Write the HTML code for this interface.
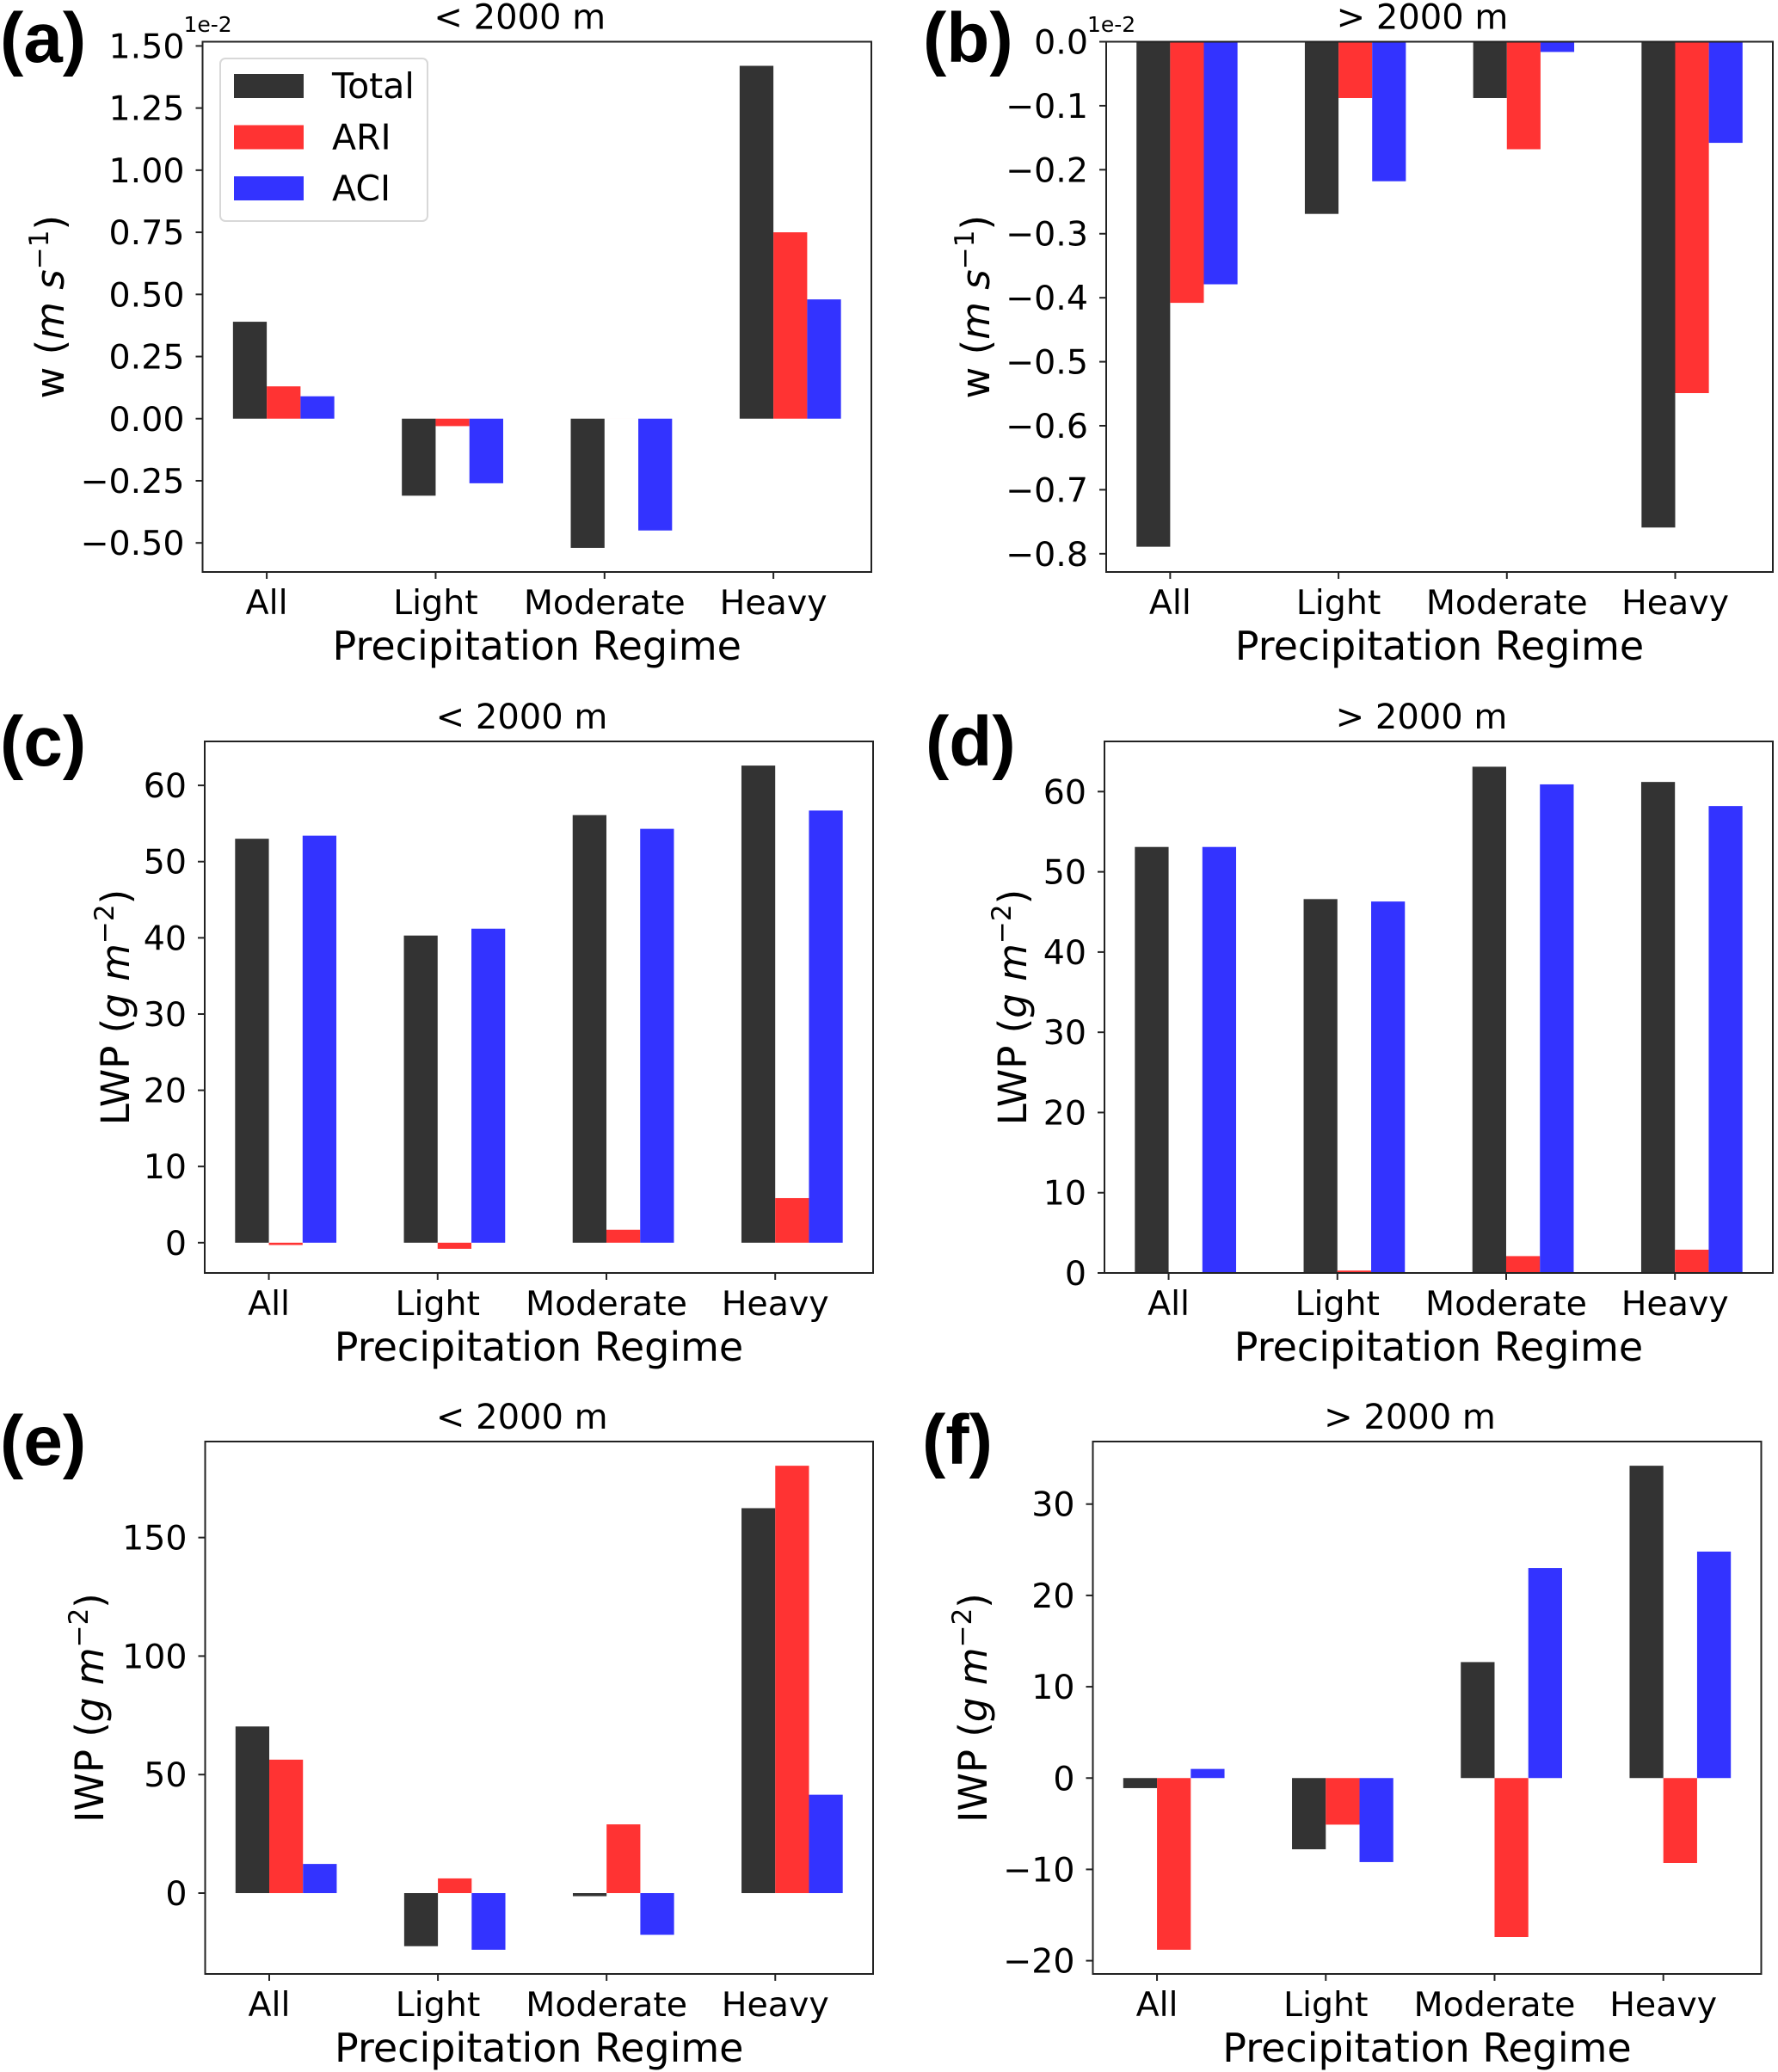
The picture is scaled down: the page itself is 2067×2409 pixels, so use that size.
<!DOCTYPE html>
<html><head><meta charset="utf-8">
<style>
html,body{margin:0;padding:0;background:#fff;}
svg{display:block;}
text{font-family:"DejaVu Sans","Liberation Sans",sans-serif;fill:#000;}
.lbl{font-family:"Liberation Sans",sans-serif;font-weight:bold;}
</style></head>
<body>
<svg id="fig" width="2067" height="2409" viewBox="0 0 2067 2409" xmlns="http://www.w3.org/2000/svg"></svg>
<script>
const categories = ["All","Light","Moderate","Heavy"];
const seriesNames = ["Total","ARI","ACI"];
// panel a: w < 2000 m (x1e-2)
const aTotal = [0.39,-0.31,-0.52,1.42];
const aARI   = [0.13,-0.03,0.0,0.75];
const aACI   = [0.09,-0.26,-0.45,0.48];
const aTicks = [-0.50,-0.25,0.00,0.25,0.50,0.75,1.00,1.25,1.50];
// panel b: w > 2000 m (x1e-2)
const bTotal = [-0.789,-0.269,-0.088,-0.759];
const bARI   = [-0.408,-0.088,-0.168,-0.549];
const bACI   = [-0.379,-0.218,-0.016,-0.158];
const bTicks = [-0.8,-0.7,-0.6,-0.5,-0.4,-0.3,-0.2,-0.1,0.0];
// panel c: LWP < 2000 m
const cTotal = [53.0,40.3,56.1,62.6];
const cARI   = [-0.3,-0.8,1.7,5.85];
const cACI   = [53.4,41.2,54.3,56.7];
const cTicks = [0,10,20,30,40,50,60];
// panel d: LWP > 2000 m
const dTotal = [53.1,46.6,63.1,61.2];
const dARI   = [0.0,0.3,2.1,2.9];
const dACI   = [53.1,46.3,60.9,58.2];
const dTicks = [0,10,20,30,40,50,60];
// panel e: IWP < 2000 m
const eTotal = [70.3,-22.4,-1.3,162.4];
const eARI   = [56.3,6.2,29.0,180.3];
const eACI   = [12.3,-23.9,-17.6,41.5];
const eTicks = [0,50,100,150];
// panel f: IWP > 2000 m
const fTotal = [-1.1,-7.8,12.7,34.2];
const fARI   = [-18.8,-5.1,-17.4,-9.3];
const fACI   = [1.0,-9.2,23.0,24.8];
const fTicks = [-20,-10,0,10,20,30];

const colors = ["#333333","#ff3333","#3333ff"];
const NS = "http://www.w3.org/2000/svg";
const svg = document.getElementById("fig");
function mk(tag, attrs, parent, txt){
  const e = document.createElementNS(NS, tag);
  for (const k in attrs) e.setAttribute(k, attrs[k]);
  if (txt !== undefined) e.textContent = txt;
  (parent||svg).appendChild(e);
  return e;
}
function fmt(v, dec){ const s = Math.abs(v).toFixed(dec); return (v < 0 ? "\u2212" : "") + s; }

const panels = [
  {id:"a", L:235.5,T:48.5,R:1013,B:665, s:[aTotal,aARI,aACI], ticks:aTicks, dec:2, title:"< 2000 m", ylab:"w", unit:"m s", exp:"\u22121", ylx:59, lx:0, ly:72, offset:"1e-2", legend:true},
  {id:"b", L:1286,T:48.5,R:2061,B:665, s:[bTotal,bARI,bACI], ticks:bTicks, dec:1, title:"> 2000 m", ylab:"w", unit:"m s", exp:"\u22121", ylx:1135, lx:1073, ly:72, offset:"1e-2"},
  {id:"c", L:238,T:862,R:1015,B:1480, s:[cTotal,cARI,cACI], ticks:cTicks, dec:0, title:"< 2000 m", ylab:"LWP", unit:"g m", exp:"\u22122", ylx:135, lx:0, ly:890},
  {id:"d", L:1284,T:862,R:2061,B:1480, s:[dTotal,dARI,dACI], ticks:dTicks, dec:0, title:"> 2000 m", ylab:"LWP", unit:"g m", exp:"\u22122", ylx:1178, lx:1076, ly:890},
  {id:"e", L:238.5,T:1676,R:1015,B:2295, s:[eTotal,eARI,eACI], ticks:eTicks, dec:0, title:"< 2000 m", ylab:"IWP", unit:"g m", exp:"\u22122", ylx:105, lx:0, ly:1703},
  {id:"f", L:1270.5,T:1676,R:2047.5,B:2295, s:[fTotal,fARI,fACI], ticks:fTicks, dec:0, title:"> 2000 m", ylab:"IWP", unit:"g m", exp:"\u22122", ylx:1132, lx:1072, ly:1702}
];

const W = 0.2;
panels.forEach(p => {
  const g = mk("g", {});
  
  
  let all = [].concat(...p.s);
  let lo = Math.min(0, ...all), hi = Math.max(0, ...all);
  const m = 0.05 * (hi - lo);
  const y0 = lo < 0 ? lo - m : 0, y1 = hi > 0 ? hi + m : 0;
  const x0 = -0.2 - 0.18, x1 = categories.length - 1 + 0.4 + 0.18;
  const X = v => p.L + (v - x0) / (x1 - x0) * (p.R - p.L);
  const Y = v => p.B - (v - y0) / (y1 - y0) * (p.B - p.T);
  p.s.forEach((arr, si) => {
    arr.forEach((v, ci) => {
      const xl = X(ci - 0.2 + si * W), xr = X(ci + si * W);
      const ya = Y(Math.max(v, 0)), yb = Y(Math.min(v, 0));
      const r = mk("rect", {x:xl, y:ya, width:xr - xl, height:Math.max(yb - ya, 0.01), fill:colors[si]}, g);
      
      
    });
  });
  const fr = mk("rect", {x:p.L, y:p.T, width:p.R - p.L, height:p.B - p.T, fill:"none", stroke:"#222", "stroke-width":2}, g);
  
  
  p.ticks.forEach(t => {
    const y = Y(t);
    mk("line", {x1:p.L - 8, x2:p.L, y1:y, y2:y, stroke:"#222", "stroke-width":2}, g);
    const tx = mk("text", {x:p.L - 21, y:y + 14, "font-size":39.5, "text-anchor":"end"}, g, fmt(t, p.dec));
    
    
  });
  categories.forEach((c, ci) => {
    const x = X(ci);
    mk("line", {x1:x, x2:x, y1:p.B, y2:p.B + 8, stroke:"#222", "stroke-width":2}, g);
    const tx = mk("text", {x:x, y:p.B + 49, "font-size":39.5, "text-anchor":"middle"}, g, c);
    
    
  });
  const xl = mk("text", {x:(p.L + p.R) / 2, y:p.B + 102, "font-size":46, "text-anchor":"middle"}, g, "Precipitation Regime");
  
  
  const tt = mk("text", {x:(p.L + p.R) / 2 - 20, y:p.T - 15, "font-size":40, "text-anchor":"middle"}, g, p.title);
  
  
  const yc = (p.T + p.B) / 2;
  const yl = mk("text", {x:0, y:0, "font-size":45, "text-anchor":"middle", transform:"translate(" + (p.ylx + 15) + "," + yc + ") rotate(-90)"}, g);
  
  
  mk("tspan", {}, yl, p.ylab + " (");
  mk("tspan", {"font-style":"italic"}, yl, p.unit);
  mk("tspan", {"font-size":31, dy:-18}, yl, p.exp);
  mk("tspan", {dy:18}, yl, ")");
  const pl = mk("text", {x:p.lx, y:p.ly, "font-size":82, class:"lbl"}, g, "(" + p.id + ")");
  
  
  if (p.offset) {
    const ot = mk("text", {x:p.L - 22, y:37, "font-size":25}, g, p.offset);
    
    
  }
  if (p.legend) {
    const lg = mk("g", {}, g);
    
    
    mk("rect", {x:256, y:68, width:241, height:189, rx:6, fill:"#fff", "fill-opacity":0.8, stroke:"#d8d8d8", "stroke-width":2}, lg);
    seriesNames.forEach((n, i) => {
      const yy = 86 + i * 59.5;
      const sw = mk("rect", {x:272, y:yy, width:81, height:28, fill:colors[i]}, lg);
      
      
      const lt = mk("text", {x:386, y:yy + 28, "font-size":41}, lg, n);
      
      
    });
  }
});
</script>
</body></html>
